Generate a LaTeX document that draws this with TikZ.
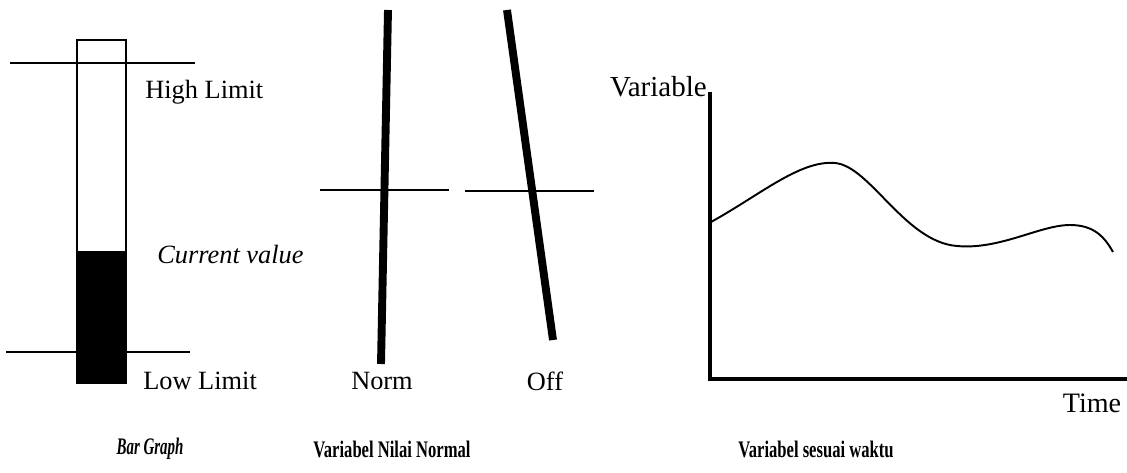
\documentclass[tikz,border=0pt]{standalone}
\usepackage{fontspec}
\setmainfont{Liberation Serif}
\usetikzlibrary{calc}
\newcommand{\capt}[2][0.70]{\scalebox{#1}[1]{#2}}

\begin{document}
\begin{tikzpicture}[x=0.02cm,y=-0.02cm,line cap=butt,line join=miter,
  limit/.style={line width=1.4pt},
  lbl/.style={font=\fontsize{15}{17}\selectfont,inner sep=0pt},
  caption/.style={font=\fontsize{13.5}{16}\selectfont\bfseries,inner sep=0pt}]
  \useasboundingbox (0,0) rectangle (1127,473);
  \begin{scope}
    \coordinate (T) at (77,40); \coordinate (B) at (126,383);
    \fill (77,251) rectangle (B);
    \draw[line width=1.1pt] (T) rectangle (B);
    \draw[limit] (10,63)--(195,63);
    \draw[limit] (6,352)--(190,352);
    \node[lbl,anchor=west] (hi) at (145,92) {High Limit};
    \node[lbl,anchor=west] (cur) at (157,255) {\itshape Current value};
    \node[lbl,anchor=west] (lo) at (143,381) {Low Limit};
    \node[caption] (bar) at (150,449) {\capt[0.63]{\itshape Bar Graph}};
  \end{scope}
  \begin{scope}
    \coordinate (Nt) at (388,10); \coordinate (Nb) at (381,364);
    \coordinate (Ot) at (507,10); \coordinate (Ob) at (553,340);
    \draw[line width=4.5pt] (Nt)--(Nb);
    \draw[line width=4.5pt] (Ot)--(Ob);
    \draw[line width=1.7pt] (320,190)--(449,190);
    \draw[line width=1.7pt] (465,191)--(594,191);
    \node[lbl] (norm) at (382,381) {Norm};
    \node[lbl] (off) at (545,381) {Off};
    \node[caption] (nilai) at (392,449) {\capt{Variabel Nilai Normal}};
  \end{scope}
  \begin{scope}
    \coordinate (O) at (710,379);
    \draw[line width=1.8pt] (710,92)--(O)--(1127,379);
    \draw[line width=1.1pt] (711,222) .. controls (760,195) and (800,160) .. (835,163)
      .. controls (870,166) and (905,242) .. (957,246)
      .. controls (1000,250) and (1040,225) .. (1070,225)
      .. controls (1095,225) and (1105,238) .. (1113,252);
    \node[lbl,anchor=east,font=\fontsize{16.5}{18}\selectfont] (var) at (707,87) {Variable};
    \node[lbl,font=\fontsize{16}{18}\selectfont] (time) at (1092,403) {Time};
    \node[caption] (waktu) at (816,449) {\capt{Variabel sesuai waktu}};
  \end{scope}
\end{tikzpicture}
\end{document}
